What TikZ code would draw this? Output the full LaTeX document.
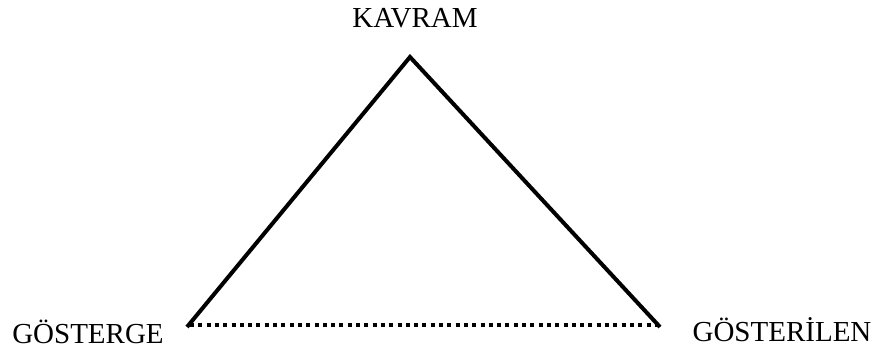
\documentclass[tikz,border=0pt]{standalone}
\usepackage{fontspec}
\setmainfont{Liberation Serif}
\begin{document}
\begin{tikzpicture}[x=1pt,y=-1pt,
  lbl/.style={anchor=base,inner sep=0pt,font=\fontsize{29}{34}\selectfont},
  side/.style={line width=4pt,line join=miter},
  dots/.style={line width=4pt,dash pattern=on 4pt off 4.3pt}]
\useasboundingbox (0,0) rectangle (880,347);
\coordinate (top) at (410,57);
\coordinate (L) at (187,327);
\coordinate (R) at (660,327);
\coordinate (DL) at (190,325);
\coordinate (DR) at (660,325);
\draw[side] (L) -- (top) -- (R);
\draw[dots] (DL) -- (DR);
\node[lbl] (kavram) at (415,28) {KAVRAM};
\node[lbl] (gosterge) at (88,343) {GÖSTERGE};
\node[lbl] (gosterilen) at (782,341) {GÖSTERİLEN};
\end{tikzpicture}
\end{document}
